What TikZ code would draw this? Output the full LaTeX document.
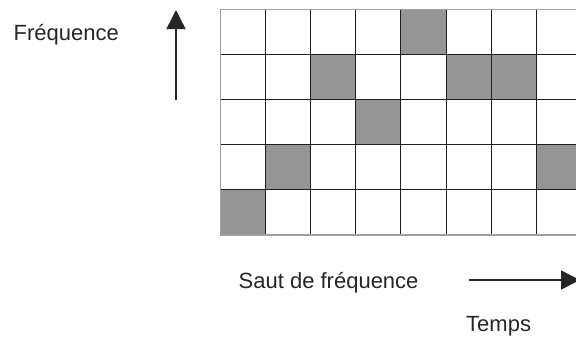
\documentclass[tikz,border=0pt]{standalone}
\usepackage{fontspec}
\setmainfont{Liberation Sans}
\usetikzlibrary{arrows.meta}
\definecolor{cellgray}{RGB}{149,149,149}
\definecolor{celledge}{RGB}{100,100,100}
\definecolor{bordergray}{RGB}{160,160,160}
\definecolor{linedark}{RGB}{30,30,30}
\tikzset{
  lbl/.style={inner sep=0pt, anchor=base west, font=\fontsize{22}{26}\selectfont, text=black!85},
  axisarrow/.style={line width=1.4pt, draw=black!85, -{Triangle[length=19pt, width=19pt]}},
  gridline/.style={line width=1pt, draw=linedark},
  gridborder/.style={line width=1.8pt, draw=bordergray},
  hotcell/.style={fill=cellgray, draw=celledge, line width=1pt}
}
\begin{document}
\begin{tikzpicture}[x=1pt,y=-1pt]
  \useasboundingbox (0,0) rectangle (576,341);
  \clip (0,0) rectangle (576,341);
  \fill[white] (0,0) rectangle (576,341);
  \def\xo{220.5}
  \def\yo{9.5}
  \def\cw{45.1}
  \def\ch{45.1}
  % shaded cells (column/row, counted from left/top)
  \foreach \c/\r in {5/1,3/2,6/2,7/2,4/3,2/4,8/4,1/5}{
    \path[hotcell] ({\xo+(\c-1)*\cw},{\yo+(\r-1)*\ch}) rectangle ({\xo+\c*\cw},{\yo+\r*\ch});
  }
  % interior grid lines
  \foreach \i in {1,...,7}{
    \draw[gridline] ({\xo+\i*\cw},\yo) -- ({\xo+\i*\cw},{\yo+5*\ch});
  }
  \foreach \j in {1,...,4}{
    \draw[gridline] (\xo,{\yo+\j*\ch}) -- ({\xo+8*\cw},{\yo+\j*\ch});
  }
  % outer border
  \draw[gridborder] (\xo,\yo) rectangle ({\xo+8*\cw},{\yo+5*\ch});
  % labels
  \node[lbl] (freq) at (13.5,40) {Fréquence};
  \node[lbl] (saut) at (238.5,288) {Saut de fréquence};
  \node[lbl] (temps) at (466,331.5) {Temps};
  % axis arrows
  \coordinate (fstart) at (176,100);
  \coordinate (fend) at (176,10);
  \draw[axisarrow] (fstart) -- (fend);
  \coordinate (tstart) at (469,280);
  \coordinate (tend) at (580,280);
  \draw[axisarrow] (tstart) -- (tend);
\end{tikzpicture}
\end{document}
